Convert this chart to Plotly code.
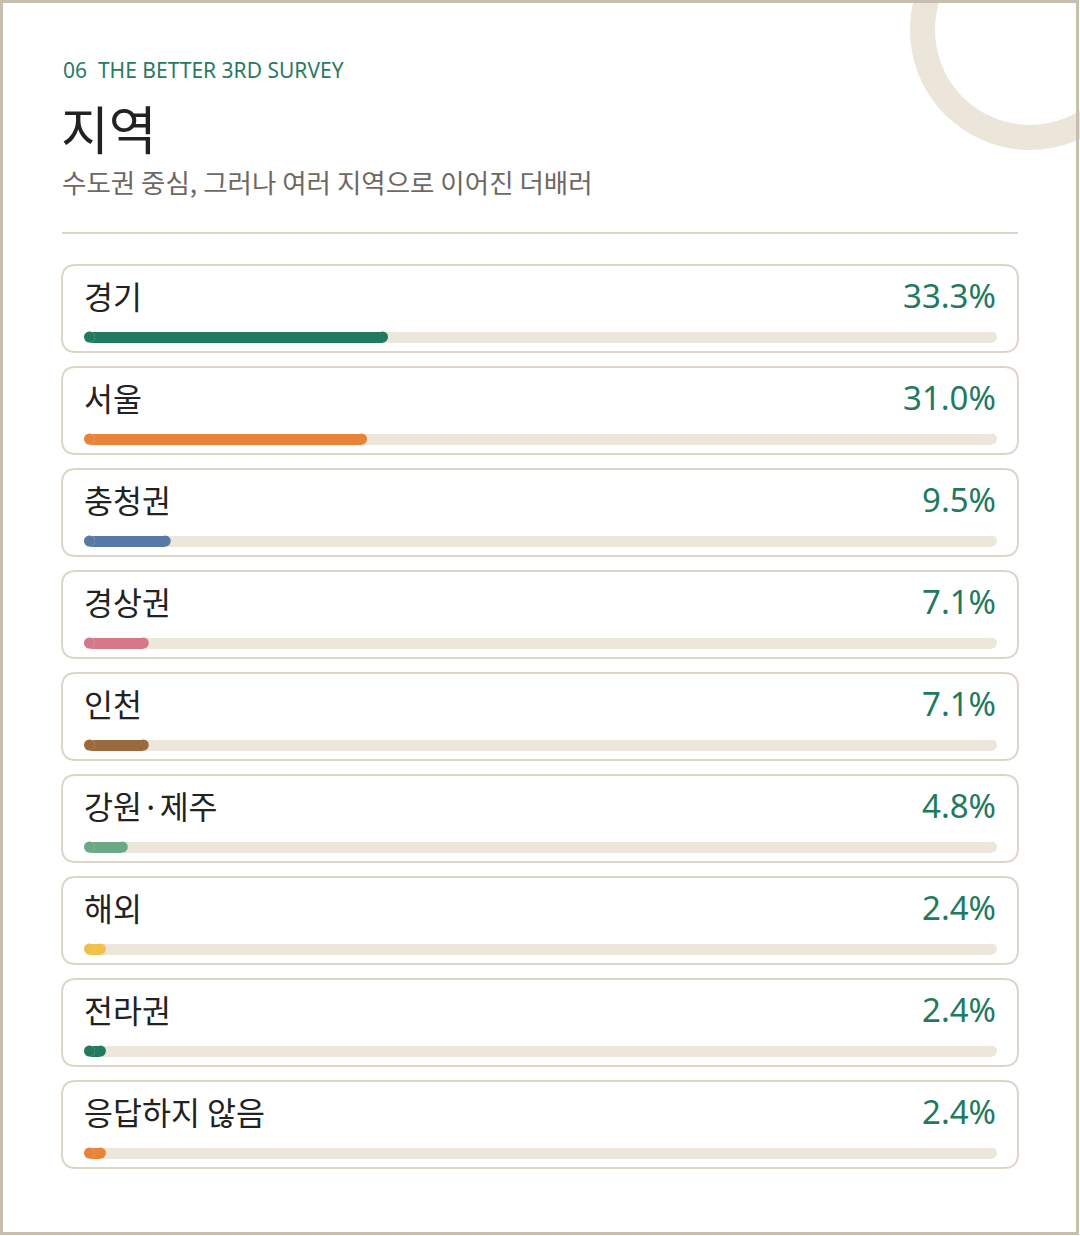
"""
Region breakdown card chart (THE BETTER 3rd survey, 06 지역).
Horizontal progress bars inside rounded cards, drawn with Plotly.
"""

import numpy as np
import plotly.graph_objects as go

# ---- data -------------------------------------------------------------
regions = ['경기', '서울', '충청권', '경상권', '인천', '강원·제주', '해외', '전라권', '응답하지 않음']
shares = [33.3, 31.0, 9.5, 7.1, 7.1, 4.8, 2.4, 2.4, 2.4]
bar_colors = ['#217a5f', '#e8833a', '#5679a8', '#d4788a', '#9a6a3c',
              '#6aa886', '#f0c048', '#217a5f', '#e8833a']
track_total = 100

kicker = '06\u00a0\u00a0THE BETTER 3RD SURVEY'
title = '지역'
subtitle = '수도권 중심, 그러나 여러 지역으로 이어진 더배러'

# ---- layout constants (pixels) ----------------------------------------
W, H = 1080, 1236
ROW0 = 337          # centre of the first bar
PITCH = 102         # distance between cards
BAR_H = 11
CARD_L, CARD_R = 62, 1018
CARD_TOP, CARD_BOT = 72, 15   # card edges relative to the bar centre
CARD_RAD = 14
TRACK_L, TRACK_R = 84, 997
LABEL_DY = 42                 # label row sits above the bar

GREEN = '#217a5f'
KR_FONT = 'Noto Sans CJK KR'


def px(x):
    return x / W


def py(y):
    return 1 - y / H


n = len(regions)
rows = np.arange(n)
# half the bar height expressed in x data units, used for the round caps
cap = (BAR_H / 2) / (TRACK_R - TRACK_L) * track_total

fig = go.Figure()


def add_pill(values, colors, name):
    """Square bar plus two circular caps so both ends are rounded."""
    values = np.asarray(values, dtype=float)
    colors = colors if isinstance(colors, list) else [colors] * len(values)
    fig.add_trace(go.Bar(y=rows, x=values - 2 * cap, base=[cap] * len(values), orientation='h',
                         marker=dict(color=colors, line_width=0),
                         width=BAR_H / PITCH, hoverinfo='skip', name=name))
    for xs in ([cap] * len(values), values - cap):
        fig.add_trace(go.Scatter(x=xs, y=rows, mode='markers', hoverinfo='skip', name=name,
                                 marker=dict(color=colors, size=BAR_H, symbol='circle',
                                             line_width=0)))


add_pill([track_total] * n, '#ede6db', 'track')
add_pill(shares, bar_colors, 'share')

shapes = []

# decorative ring in the top right corner
cx, cy, r = 1030, 30, 107.5
shapes.append(dict(type='circle', xref='paper', yref='paper',
                   x0=px(cx - r), x1=px(cx + r), y0=py(cy + r), y1=py(cy - r),
                   line=dict(color='#ebe5da', width=25), layer='below'))

# outer frame
shapes.append(dict(type='rect', xref='paper', yref='paper',
                   x0=px(1.5), x1=px(1077.5), y0=py(1233.5), y1=py(1.5),
                   line=dict(color='#c8beaf', width=3), layer='below'))

# divider under the header
shapes.append(dict(type='line', xref='paper', yref='paper',
                   x0=px(CARD_L), x1=px(CARD_R), y0=py(233), y1=py(233),
                   line=dict(color='#ddd5c8', width=2), layer='below'))

# rounded cards
rx = CARD_RAD / W
ry = CARD_RAD / PITCH
xl, xr = px(CARD_L), px(CARD_R)
for i in rows:
    yt = i - CARD_TOP / PITCH
    yb = i + CARD_BOT / PITCH
    path = (f'M {xl + rx},{yt} L {xr - rx},{yt} Q {xr},{yt} {xr},{yt + ry} '
            f'L {xr},{yb - ry} Q {xr},{yb} {xr - rx},{yb} '
            f'L {xl + rx},{yb} Q {xl},{yb} {xl},{yb - ry} '
            f'L {xl},{yt + ry} Q {xl},{yt} {xl + rx},{yt} Z')
    shapes.append(dict(type='path', xref='paper', yref='y', path=path,
                       fillcolor='white', line=dict(color='#ddd6c8', width=2), layer='below'))

annotations = [
    dict(text=kicker, x=px(61), y=py(70), xref='paper', yref='paper',
         xanchor='left', yanchor='middle', showarrow=False,
         font=dict(family='Noto Sans', size=21, color='#2a7a62')),
    dict(text=title, x=px(59), y=py(127), xref='paper', yref='paper',
         xanchor='left', yanchor='middle', showarrow=False,
         font=dict(family=KR_FONT, size=52, color='#222222')),
    dict(text=subtitle, x=px(60), y=py(181), xref='paper', yref='paper',
         xanchor='left', yanchor='middle', showarrow=False,
         font=dict(family=KR_FONT, size=26.5, color='#6e6862')),
]

for i, (label, val) in enumerate(zip(regions, shares)):
    annotations.append(dict(text=label, x=px(TRACK_L - 2), y=i - LABEL_DY / PITCH,
                            xref='paper', yref='y', xanchor='left', yanchor='middle',
                            showarrow=False, font=dict(family=KR_FONT, size=31.5, color='#222222')))
    annotations.append(dict(text=f'{val:.1f}%', x=px(998), y=i - LABEL_DY / PITCH,
                            xref='paper', yref='y', xanchor='right', yanchor='middle',
                            showarrow=False, font=dict(family='Noto Sans', size=33, color=GREEN)))

fig.update_layout(
    width=W, height=H,
    margin=dict(l=0, r=0, t=0, b=0),
    paper_bgcolor='white', plot_bgcolor='rgba(0,0,0,0)',
    barmode='overlay', bargap=0,
    xaxis=dict(domain=[px(TRACK_L), px(TRACK_R)], range=[0, track_total],
               visible=False, fixedrange=True),
    yaxis=dict(domain=[0, 1], range=[(H - ROW0) / PITCH, -ROW0 / PITCH],
               visible=False, fixedrange=True),
    shapes=shapes,
    annotations=annotations,
    showlegend=False,
)

fig.write_html('out.html', config={'displayModeBar': False},
               post_script="document.body.style.margin='0';")
